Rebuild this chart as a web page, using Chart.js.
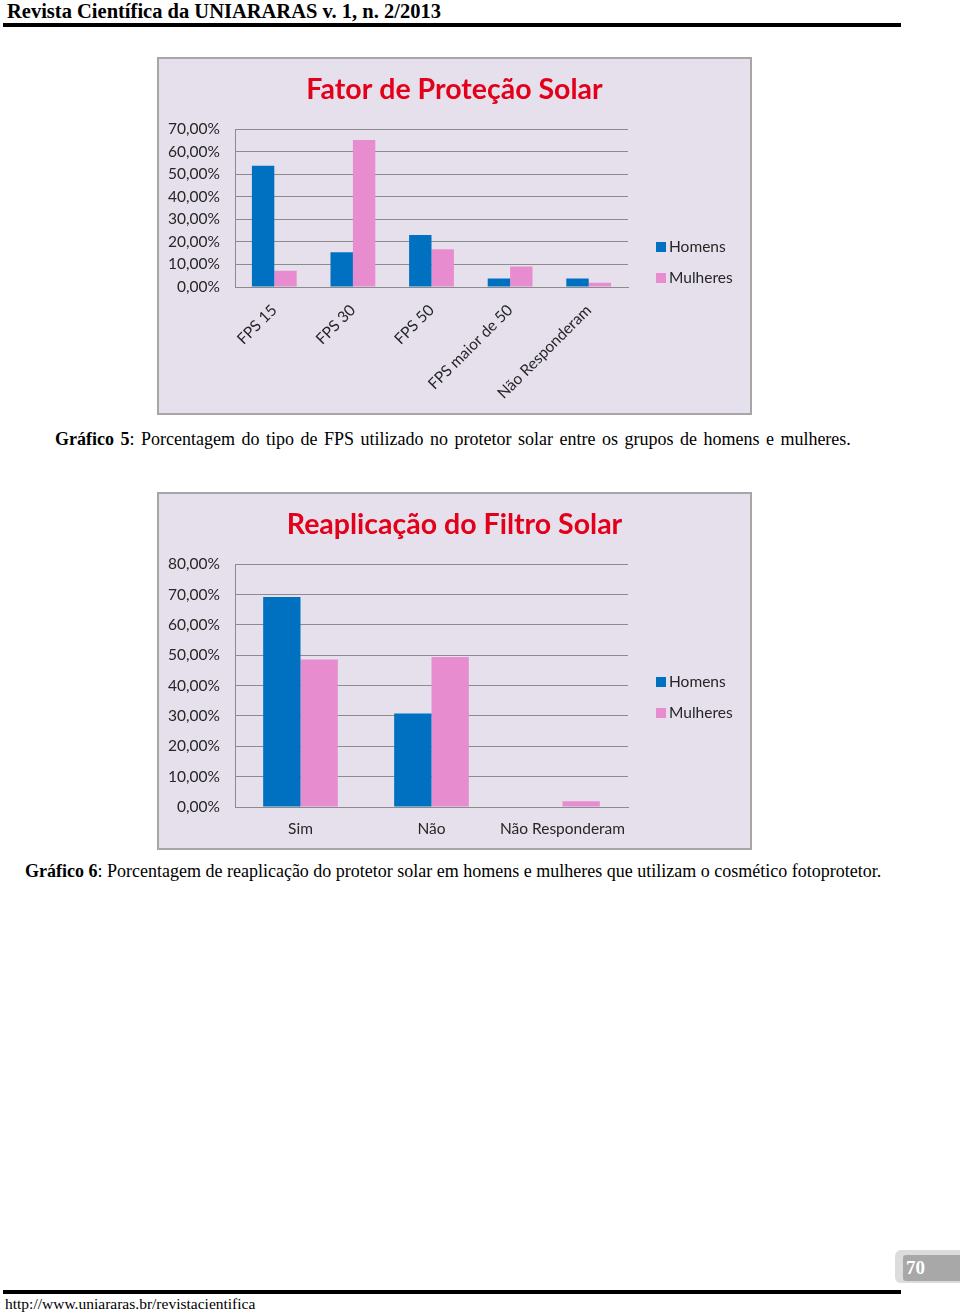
<!DOCTYPE html>
<html lang="pt-BR">
<head>
<meta charset="utf-8">
<title>Revista Científica da UNIARARAS</title>
<script src="https://cdn.jsdelivr.net/npm/chart.js@4.4.1/dist/chart.umd.min.js"></script>
<style>
  body { margin: 0; background: #fff; }
  #page { position: relative; width: 960px; height: 1313px; overflow: hidden; font-family: "Liberation Serif", "DejaVu Serif", serif; color: #000; }
  .abs { position: absolute; }
  #header { left: 7px; top: 0px; font-size: 20.5px; font-weight: bold; white-space: nowrap; line-height: 22px; }
  .rule { background: #000; height: 4px; }
  .box { background: #e5e0ec; border: 2px solid #a6a6a6; box-sizing: border-box; width: 595px; height: 358px; }
  .box canvas { position: absolute; left: 0; top: 0; }
  .caption { font-size: 18px; white-space: nowrap; line-height: 20px; }
  #url { left: 5px; top: 1295px; font-size: 15.5px; white-space: nowrap; line-height: 18px; }
  #pgOuter { left: 895px; top: 1250px; width: 70px; height: 33px; background: #dcdcdc; border-radius: 6px; }
  #pgInner { left: 903px; top: 1255px; width: 60px; height: 26px; background: #a8a8a8; border-radius: 3px; }
  #pgNum { left: 906px; top: 1257px; font-size: 19px; font-weight: bold; color: #fff; line-height: 22px; }
</style>
</head>
<body>
<div id="page">
  <div id="header" class="abs">Revista Científica da UNIARARAS v. 1, n. 2/2013</div>
  <div class="abs rule" style="left:3px; top:23px; width:898px;"></div>

  <div class="abs box" style="left:157px; top:57px;">
    <canvas id="chartFps" width="591" height="354"></canvas>
  </div>
  <div class="abs caption" style="left:55px; top:429px; word-spacing:2px;"><b>Gráfico 5</b>: Porcentagem do tipo de FPS utilizado no protetor solar entre os grupos de homens e mulheres.</div>

  <div class="abs box" style="left:157px; top:492px;">
    <canvas id="chartReapl" width="591" height="354"></canvas>
  </div>
  <div class="abs caption" style="left:25px; top:861px;"><b>Gráfico 6</b>: Porcentagem de reaplicação do protetor solar em homens e mulheres que utilizam o cosmético fotoprotetor.</div>

  <div id="pgOuter" class="abs"></div>
  <div id="pgInner" class="abs"></div>
  <div id="pgNum" class="abs">70</div>
  <div class="abs rule" style="left:3px; top:1290px; width:898px;"></div>
  <div id="url" class="abs">http://www.uniararas.br/revistacientifica</div>
</div>

<script>
// Series names
const seriesNames = ['Homens', 'Mulheres'];

// Gráfico 5 - Fator de Proteção Solar
const fpsTitle = 'Fator de Proteção Solar';
const fpsCategories = ['FPS 15', 'FPS 30', 'FPS 50', 'FPS maior de 50', 'Não Responderam'];
const fpsHomens = [53.8, 15.4, 23.1, 3.8, 3.8];
const fpsMulheres = [7.2, 65.2, 16.7, 9.1, 1.9];
const fpsTicks = [0, 10, 20, 30, 40, 50, 60, 70];

// Gráfico 6 - Reaplicação do Filtro Solar
const reaplTitle = 'Reaplicação do Filtro Solar';
const reaplCategories = ['Sim', 'Não', 'Não Responderam'];
const reaplHomens = [69.2, 30.8, 0];
const reaplMulheres = [48.6, 49.4, 1.9];
const reaplTicks = [0, 10, 20, 30, 40, 50, 60, 70, 80];

const colors = ['#0070c0', '#e78dcf'];
const font = 'Lato, "Open Sans", sans-serif';

// Legend on the right side, like the Excel chart
const sideLegend = {
  id: 'sideLegend',
  afterDraw(chart, args, opts) {
    const ctx = chart.ctx;
    ctx.save();
    ctx.font = '15.5px ' + font;
    ctx.textBaseline = 'middle';
    chart.data.datasets.forEach((ds, i) => {
      const y = opts.y + i * opts.spacing;
      ctx.fillStyle = ds.backgroundColor;
      ctx.fillRect(opts.x, y - 5, 10, 10);
      ctx.fillStyle = '#262626';
      ctx.fillText(ds.label, opts.x + 13, y);
    });
    ctx.restore();
  }
};

function percentLabel(v) {
  return v.toFixed(2).replace('.', ',') + '%';
}

function makeChart(id, title, categories, homens, mulheres, ticks, rotated) {
  const ctx = document.getElementById(id).getContext('2d');
  return new Chart(ctx, {
    type: 'bar',
    data: {
      labels: categories,
      datasets: [homens, mulheres].map((vals, i) => ({
        label: seriesNames[i],
        data: vals,
        backgroundColor: colors[i],
        borderWidth: 0,
        categoryPercentage: 0.57,
        barPercentage: 1.0
      }))
    },
    plugins: [sideLegend],
    options: {
      responsive: false,
      animation: false,
      layout: { padding: 0 },
      plugins: {
        legend: { display: false },
        tooltip: { enabled: false },
        title: {
          display: true,
          text: title,
          color: '#e3001b',
          font: { family: font, size: 28.5, weight: 'bold' },
          padding: { top: 14, bottom: 22 }
        },
        sideLegend: { x: 497, y: 188, spacing: 31 }
      },
      scales: {
        x: {
          grid: { display: false },
          border: { display: true, color: '#8c8c8c' },
          ticks: {
            color: '#262626',
            font: { family: font, size: 15.5 },
            minRotation: rotated ? 45 : 0,
            maxRotation: rotated ? 45 : 0,
            autoSkip: false,
            padding: rotated ? 6 : 5
          },
          afterFit: (scale) => { scale.height = rotated ? 126 : 41; }
        },
        y: {
          min: ticks[0],
          max: ticks[ticks.length - 1],
          afterBuildTicks: (scale) => { scale.ticks = ticks.map(v => ({ value: v })); },
          grid: { color: '#8c8c8c', lineWidth: 1, drawTicks: false },
          border: { display: true, color: '#8c8c8c' },
          ticks: {
            color: '#262626',
            font: { family: font, size: 15.5 },
            padding: 15,
            callback: (v) => percentLabel(v)
          },
          afterFit: (scale) => { scale.width = 76; }
        },
        // empty axis on the right reserves the legend space, so the title stays centred on the box
        legendSpace: {
          type: 'linear',
          position: 'right',
          grid: { display: false },
          border: { display: false },
          ticks: { display: false },
          afterFit: (scale) => { scale.width = 122; }
        }
      }
    }
  });
}

makeChart('chartFps', fpsTitle, fpsCategories, fpsHomens, fpsMulheres, fpsTicks, true);
makeChart('chartReapl', reaplTitle, reaplCategories, reaplHomens, reaplMulheres, reaplTicks, false);
</script>
</body>
</html>
